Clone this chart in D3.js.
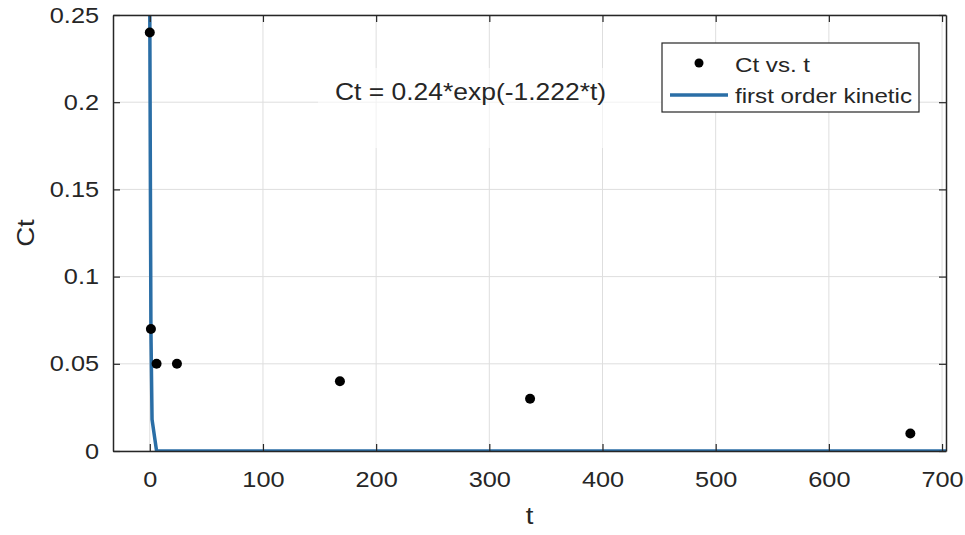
<!DOCTYPE html>
<html lang="en">
  <head>
    <meta charset="UTF-8" />
    <title>Ct vs t - first order kinetic</title>
    <script src="https://d3js.org/d3.v7.min.js"></script>
    <style>
      body { margin: 0; background: #fff; }
      text { font-family: "Liberation Sans", Arial, sans-serif; fill: #262626; }
      .grid line { stroke: #dedede; stroke-width: 1; }
    </style>
  </head>
  <body>
    <svg id="chart" width="965" height="535"></svg>

    <script>
      // measured points
      const tValues = [0, 1, 6, 24, 168, 336, 672];
      const ctValues = [0.24, 0.07, 0.05, 0.05, 0.04, 0.03, 0.01];

      // fitted curve, as drawn (coarse samples)
      const fitT = [-0.2, 1, 2, 6, 704];
      const fitC = [0.29, 0.07, 0.018, 0, 0];

      const xTicks = [0, 100, 200, 300, 400, 500, 600, 700];
      const yTicks = [0, 0.05, 0.1, 0.15, 0.2, 0.25];
      const yTickLabels = ["0", "0.05", "0.1", "0.15", "0.2", "0.25"];

      const margin = { top: 15, right: 19, bottom: 84, left: 113 },
        width = 965 - margin.left - margin.right,
        height = 535 - margin.top - margin.bottom;

      const sx = 1.15; // text looks horizontally stretched in the reference

      const svg = d3
        .select("#chart")
        .append("g")
        .attr("transform", `translate(${margin.left},${margin.top})`);

      const x = d3.scaleLinear().domain([-32.5, 703.5]).range([0, width]);
      const y = d3.scaleLinear().domain([0, 0.25]).range([height, 0]);

      // grid
      svg
        .append("g")
        .attr("class", "grid")
        .selectAll("line.gx")
        .data(xTicks)
        .enter()
        .append("line")
        .attr("x1", (d) => x(d))
        .attr("x2", (d) => x(d))
        .attr("y1", 0)
        .attr("y2", height);
      svg
        .select(".grid")
        .selectAll("line.gy")
        .data(yTicks)
        .enter()
        .append("line")
        .attr("x1", 0)
        .attr("x2", width)
        .attr("y1", (d) => y(d))
        .attr("y2", (d) => y(d));

      // faint text box behind the equation
      svg
        .append("rect")
        .attr("x", 205)
        .attr("y", 53)
        .attr("width", 350)
        .attr("height", 80)
        .attr("fill", "#fff")
        .attr("opacity", 0.6);

      // fitted curve
      const clip = svg
        .append("clipPath")
        .attr("id", "plotclip")
        .append("rect")
        .attr("width", width)
        .attr("height", height);

      const fitData = fitT.map((t, i) => ({ t: t, c: fitC[i] }));
      svg
        .append("path")
        .datum(fitData)
        .attr("clip-path", "url(#plotclip)")
        .attr("fill", "none")
        .attr("stroke", "#2a6ea6")
        .attr("stroke-width", 3.5)
        .attr("stroke-linejoin", "round")
        .attr("d", d3.line().x((d) => x(d.t)).y((d) => y(d.c)));

      // points
      svg
        .selectAll(".dot")
        .data(tValues)
        .enter()
        .append("circle")
        .attr("class", "dot")
        .attr("cx", (d) => x(d))
        .attr("cy", (d, i) => y(ctValues[i]))
        .attr("r", 5)
        .attr("fill", "#000");

      // axes (box with inward ticks)
      const axisColor = "#262626";
      const xAxis = svg
        .append("g")
        .attr("transform", `translate(0,${height})`)
        .call(
          d3.axisBottom(x).tickValues(xTicks).tickSizeInner(-7).tickSizeOuter(0).tickPadding(20)
        );
      const xTop = svg
        .append("g")
        .call(d3.axisTop(x).tickValues(xTicks).tickSizeInner(-7).tickSizeOuter(0).tickFormat(""));
      const yAxis = svg
        .append("g")
        .call(
          d3
            .axisLeft(y)
            .tickValues(yTicks)
            .tickSizeInner(-7)
            .tickSizeOuter(0)
            .tickPadding(14)
            .tickFormat((d, i) => yTickLabels[i])
        );
      const yRight = svg
        .append("g")
        .attr("transform", `translate(${width},0)`)
        .call(d3.axisRight(y).tickValues(yTicks).tickSizeInner(-7).tickSizeOuter(0).tickFormat(""));

      [xAxis, xTop, yAxis, yRight].forEach((g) => {
        g.select(".domain").attr("stroke", axisColor).attr("stroke-width", 1.5);
        g.selectAll(".tick line").attr("stroke", axisColor).attr("stroke-width", 1.2);
        g.selectAll(".tick text")
          .attr("fill", "#262626")
          .style("font-size", "22px")
          .style("font-family", '"Liberation Sans", Arial, sans-serif');
      });
      xAxis.selectAll(".tick text").attr("transform", `scale(${sx},1)`);
      yAxis.selectAll(".tick text").attr("transform", `scale(${sx},1)`).attr("x", -14 / sx);

      // axis labels
      svg
        .append("text")
        .attr("transform", `translate(${width / 2},${height + 73}) scale(${sx},1)`)
        .attr("text-anchor", "middle")
        .style("font-size", "24px")
        .text("t");
      svg
        .append("text")
        .attr("transform", `translate(-79,${height / 2}) rotate(-90) scale(${sx},1)`)
        .attr("text-anchor", "middle")
        .style("font-size", "24px")
        .text("Ct");

      // equation
      svg
        .append("text")
        .attr("transform", `translate(222,85) scale(${sx},1)`)
        .style("font-size", "23px")
        .text("Ct = 0.24*exp(-1.222*t)");

      // legend
      const legend = svg.append("g").attr("transform", "translate(549,28)");
      legend
        .append("rect")
        .attr("width", 257)
        .attr("height", 69)
        .attr("fill", "#fff")
        .attr("stroke", axisColor)
        .attr("stroke-width", 1.2);
      legend.append("circle").attr("cx", 37).attr("cy", 20).attr("r", 4.5).attr("fill", "#000");
      legend
        .append("line")
        .attr("x1", 8)
        .attr("x2", 66)
        .attr("y1", 52)
        .attr("y2", 52)
        .attr("stroke", "#2a6ea6")
        .attr("stroke-width", 3.5);
      legend
        .append("text")
        .attr("transform", `translate(73,29) scale(${sx},1)`)
        .style("font-size", "21px")
        .text("Ct vs. t");
      legend
        .append("text")
        .attr("transform", `translate(73,60) scale(${sx},1)`)
        .style("font-size", "21px")
        .text("first order kinetic");
    </script>
  </body>
</html>
